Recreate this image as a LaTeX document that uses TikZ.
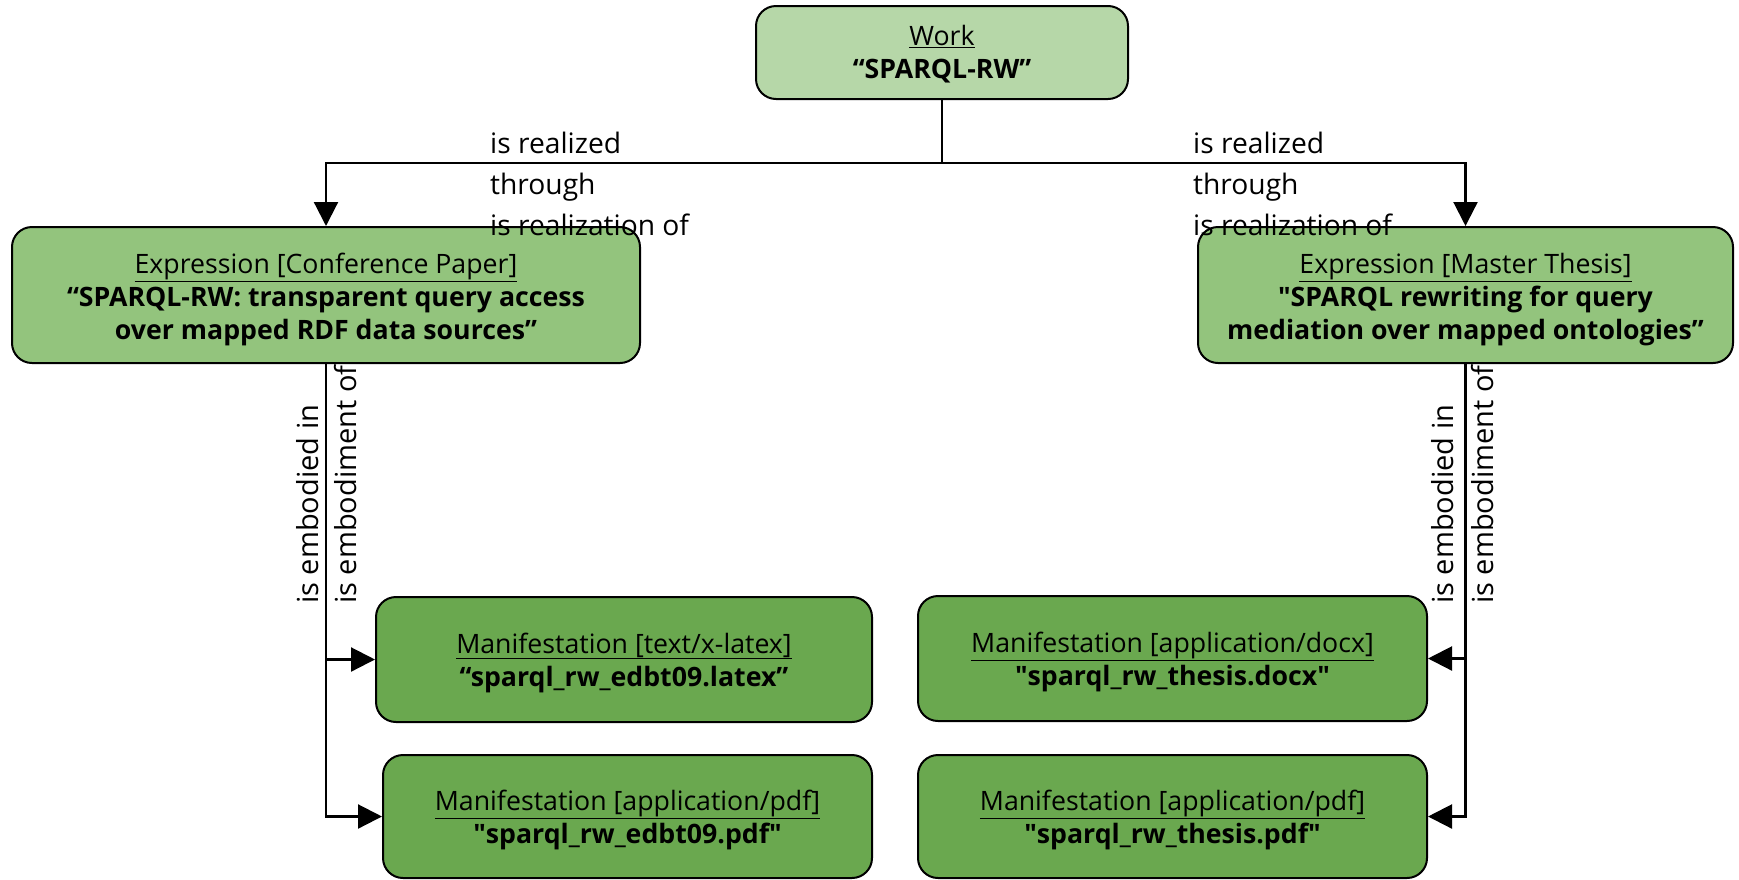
\documentclass[tikz,border=0pt]{standalone}
\usepackage{fontspec}
\setmainfont{Open Sans}
\usetikzlibrary{arrows.meta}
\definecolor{workfill}{HTML}{B6D7A8}
\definecolor{exprfill}{HTML}{93C47D}
\definecolor{manifill}{HTML}{6AA84F}
\newcommand{\dq}{″}
\tikzset{
  box/.style={draw=black, line width=2pt, rounded corners=20pt, inner sep=0pt},
  txt/.style={inner sep=0pt, align=center, font=\fontsize{26.7}{33}\selectfont},
  workbox/.style={box, fill=workfill, minimum width=372pt, minimum height=93pt},
  exprbox/.style={box, fill=exprfill, minimum height=136pt},
  manibox/.style={box, fill=manifill, minimum height=124pt},
  conn/.style={draw=black, line width=2.2pt},
  arr/.style={conn, -{Triangle[length=24pt,width=24pt]}},
  lbl/.style={inner sep=0pt, font=\fontsize{28.2}{41}\selectfont, align=left},
  vlbl/.style={inner sep=0pt, font=\fontsize{29}{35}\selectfont, anchor=west, rotate=90},
}
\begin{document}
\begin{tikzpicture}[x=1pt,y=-1pt]
\useasboundingbox (0,0) rectangle (1739,879);
% boxes
\node[workbox] (work) at (942,52.5) {};
\node[txt] (workt) at ([yshift=-2pt]work.center) {\underline{Work}\\\textbf{“SPARQL-RW”}};
\node[exprbox, minimum width=628pt] (exL) at (326,295) {};
\node[txt] (exLt) at ([yshift=-4.5pt]exL.center) {\underline{Expression [Conference Paper]}\\\textbf{“SPARQL-RW: transparent query access}\\\textbf{over mapped RDF data sources”}};
\node[exprbox, minimum width=535pt] (exR) at (1465.5,295) {};
\node[txt] (exRt) at ([yshift=-4.5pt]exR.center) {\underline{Expression [Master Thesis]}\\\textbf{\dq SPARQL rewriting for query}\\\textbf{mediation over mapped ontologies”}};
\node[manibox, minimum width=496pt, minimum height=125pt] (mL1) at (624,659.5) {};
\node[txt] (mL1t) at ([yshift=-3pt]mL1.center) {\underline{Manifestation [text/x-latex]}\\\textbf{“sparql\_rw\_edbt09.latex”}};
\node[manibox, minimum width=489pt, minimum height=123pt] (mL2) at (627.5,816.5) {};
\node[txt] (mL2t) at ([yshift=-3pt]mL2.center) {\underline{Manifestation [application/pdf]}\\\textbf{\dq sparql\_rw\_edbt09.pdf\dq}};
\node[manibox, minimum width=509pt, minimum height=125pt] (mR1) at (1172.5,658.5) {};
\node[txt] (mR1t) at ([yshift=-3pt]mR1.center) {\underline{Manifestation [application/docx]}\\\textbf{\dq sparql\_rw\_thesis.docx\dq}};
\node[manibox, minimum width=509pt, minimum height=123pt] (mR2) at (1172.5,816.5) {};
\node[txt] (mR2t) at ([yshift=-3pt]mR2.center) {\underline{Manifestation [application/pdf]}\\\textbf{\dq sparql\_rw\_thesis.pdf\dq}};
% connectors
\coordinate (jn) at (942,163);
\draw[conn] (work.south) -- (jn);
\draw[arr] (jn) -| (exL.north);
\draw[arr] (jn) -| (exR.north);
\draw[arr] (exL.south) |- (mL1.west);
\draw[arr] (exL.south) |- (mL2.west);
\draw[arr] (exR.south) |- (mR1.east);
\draw[arr] (exR.south) |- (mR2.east);
% labels
\node[lbl, anchor=west] (rl) at (490,184) {is realized\\through\\is realization of};
\node[lbl, anchor=west] (rr) at (1193,184) {is realized\\through\\is realization of};
\node[vlbl] (el1) at (308,604) {is embodied in};
\node[vlbl] (el2) at (346,604) {is embodiment of};
\node[vlbl] (er1) at (1442.5,604) {is embodied in};
\node[vlbl] (er2) at (1483,604) {is embodiment of};
\end{tikzpicture}
\end{document}
